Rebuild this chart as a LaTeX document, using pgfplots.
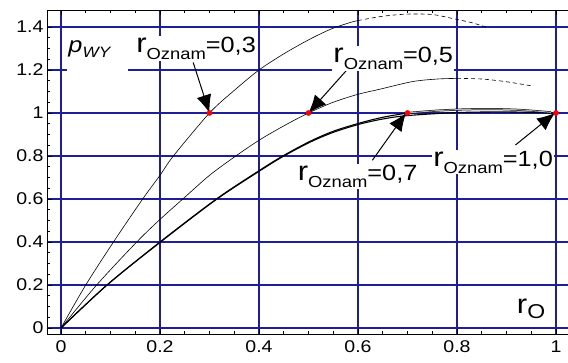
\documentclass[border=0pt]{standalone}
\usepackage{fontspec}
\setmainfont{Liberation Sans}[FakeStretch=1.15]
\usepackage{pgfplots}
\pgfplotsset{compat=1.18}
\usetikzlibrary{arrows.meta}
\definecolor{gridblue}{RGB}{30,30,150}
\newcommand{\lab}[1]{{\fontsize{27}{30}\selectfont r}\raisebox{-7pt}{\fontsize{16}{18}\selectfont Oznam}{\fontsize{22}{26}\selectfont =#1}}
\begin{document}
\begin{tikzpicture}
\begin{axis}[
  scale only axis, width=521pt, height=324pt,
  xmin=-0.028283, xmax=1.024242, ymin=-0.027907, ymax=1.479070,
  axis x line=box, axis y line=left, axis line style={-, line width=0.9pt},
  xtick={0,0.2,0.4,0.6,0.8,1}, ytick={0,0.2,0.4,0.6,0.8,1,1.2,1.4},
  minor x tick num=3, minor y tick num=3,
  tick align=inside, major tick length=5pt, minor tick length=3pt,
  tick style={black, line width=0.7pt},
  xmajorgrids, ymajorgrids,
  major grid style={draw=gridblue, line width=1.8pt},
  ticklabel style={font=\fontsize{17}{20}\selectfont},
  /pgf/number format/assume math mode=true,
  xticklabel style={yshift=-3pt},
]
% r_Oznam = 0.3
\addplot[black, line width=0.6pt, smooth] coordinates {
 (0,0) (0.05,0.2) (0.106,0.4) (0.165,0.6) (0.2,0.71) (0.227,0.8) (0.3,1.0) (0.35,1.105) (0.4,1.2) (0.45,1.275) (0.5,1.34) (0.545,1.39) (0.583,1.42) (0.6,1.43)};
\addplot[black, line width=0.6pt, smooth, dash pattern=on 4pt off 3pt] coordinates {
 (0.6,1.43) (0.65,1.45) (0.7,1.46) (0.75,1.458) (0.79,1.44) (0.83,1.42) (0.858,1.40)};
% r_Oznam = 0.5
\addplot[black, line width=0.6pt, smooth] coordinates {
 (0,0) (0.072,0.2) (0.153,0.4) (0.2,0.505) (0.25,0.608) (0.3,0.71) (0.35,0.795) (0.4,0.873) (0.45,0.94) (0.5,1.0) (0.55,1.05) (0.6,1.087) (0.643,1.11) (0.71,1.146) (0.76,1.158) (0.8,1.161)};
\addplot[black, line width=0.6pt, smooth, dash pattern=on 4pt off 3pt] coordinates {
 (0.8,1.161) (0.85,1.158) (0.898,1.146) (0.951,1.126)};
% r_Oznam = 1.0
\addplot[black, line width=1.1pt, smooth] coordinates {
 (0,0) (0.093,0.2) (0.2,0.398) (0.314,0.598) (0.401,0.73) (0.448,0.797) (0.502,0.863) (0.55,0.91) (0.603,0.948) (0.65,0.972) (0.7,0.988) (0.8,1.002) (0.9,1.005) (1.0,1.0)};
% r_Oznam = 0.7
\addplot[black, line width=1.1pt, smooth] coordinates {
 (0,0) (0.093,0.2) (0.2,0.4) (0.314,0.6) (0.401,0.733) (0.448,0.8) (0.502,0.867) (0.55,0.915) (0.603,0.953) (0.65,0.98) (0.7,1.0)};
\addplot[black, line width=0.5pt, double=black!30, double distance=1pt, smooth] coordinates {
 (0.7,1.0) (0.76,1.011) (0.82,1.017) (0.88,1.018) (0.93,1.014) (0.97,1.007) (0.99,1.003)};
% points
\addplot[only marks, mark=*, mark size=2.6pt, red, mark options={draw=red, fill=red}] coordinates {(0.3,1) (0.5,1) (0.7,1) (1,1)};
% arrows
\draw[line width=1pt, -{Latex[length=18pt,width=15pt]}] (axis cs:0.267,1.235) -- (axis cs:0.3,1.0);
\draw[line width=1pt, -{Latex[length=18pt,width=15pt]}] (axis cs:0.579,1.204) -- (axis cs:0.5,1.0);
\draw[line width=1pt, -{Latex[length=18pt,width=15pt]}] (axis cs:0.629,0.78) -- (axis cs:0.697,1.0);
\draw[line width=1pt, -{Latex[length=18pt,width=15pt]}] (axis cs:0.918,0.851) -- (axis cs:0.998,1.0);
% labels
\fill[white] (axis cs:0.0127,1.17) rectangle (axis cs:0.1355,1.33);
\node[anchor=base west, inner sep=0pt] at (axis cs:0.0147,1.282) {{\fontsize{22}{26}\selectfont\itshape p}\raisebox{-5pt}{\fontsize{15}{18}\selectfont\itshape WY}};
\node[anchor=base west, fill=white, inner sep=1pt] at (axis cs:0.1496,1.282) {\lab{0,3}};
\node[anchor=base west, fill=white, inner sep=1pt] at (axis cs:0.548,1.235) {\lab{0,5}};
\node[anchor=base west, fill=white, inner sep=1pt] at (axis cs:0.476,0.686) {\lab{0,7}};
\node[anchor=base west, fill=white, inner sep=1pt] at (axis cs:0.7496,0.753) {\lab{1,0}};
\node[anchor=base west, inner sep=0pt] at (axis cs:0.9207,0.068) {{\fontsize{27}{30}\selectfont r}\raisebox{-5pt}{\fontsize{20}{24}\selectfont O}};
\end{axis}
\pgfresetboundingbox
\path[use as bounding box] ([shift={(-47pt,-29pt)}]current axis.south west) rectangle ([shift={(0pt,10pt)}]current axis.north east);
\end{tikzpicture}
\end{document}
